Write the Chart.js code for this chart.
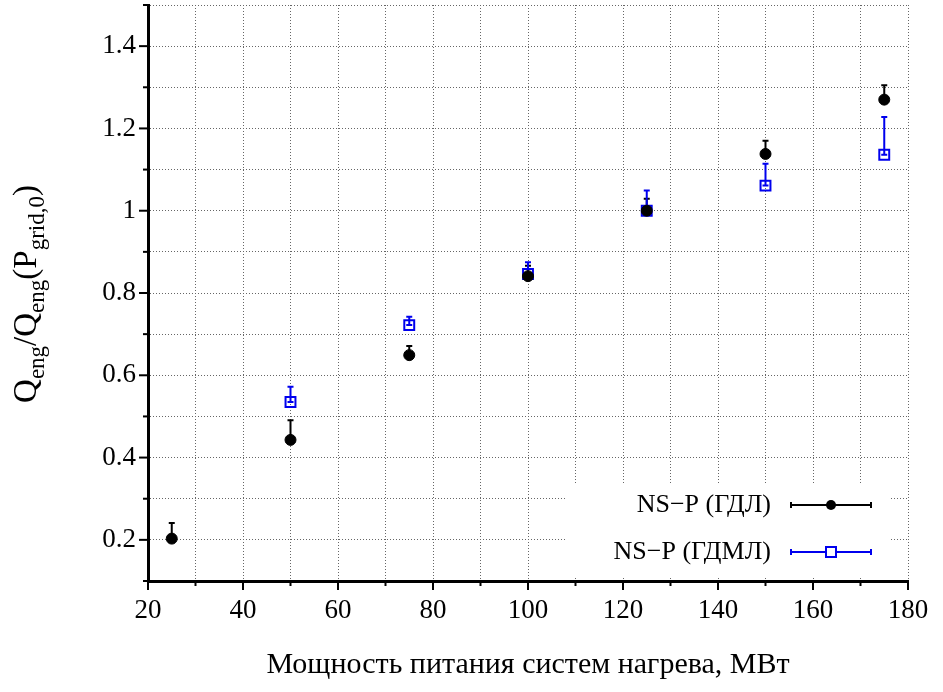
<!DOCTYPE html>
<html>
<head>
<meta charset="utf-8">
<script src="https://cdn.jsdelivr.net/npm/chart.js@4.4.1/dist/chart.umd.min.js"></script>
<style>
  html, body { margin: 0; padding: 0; background: #fff; }
  #wrap { width: 943px; height: 692px; }
</style>
</head>
<body>
<div id="wrap"><canvas id="chart" width="943" height="692"></canvas></div>
<script>
// data
var gdlX = [25, 50, 75, 100, 125, 150, 175];
var gdlValues = [0.203, 0.443, 0.649, 0.841, 1.0, 1.138, 1.270];
var gdlErrTop = [0.241, 0.491, 0.671, 0.866, 1.029, 1.170, 1.305];

var gdmlX = [50, 75, 100, 125, 150, 175];
var gdmlValues = [0.535, 0.722, 0.846, 1.0, 1.061, 1.136];
var gdmlErrTop = [0.572, 0.742, 0.875, 1.049, 1.114, 1.228];

var seriesNames = ['NS\u2212P (\u0413\u0414\u041b)', 'NS\u2212P (\u0413\u0414\u041c\u041b)'];
var xTitle = '\u041c\u043e\u0449\u043d\u043e\u0441\u0442\u044c \u043f\u0438\u0442\u0430\u043d\u0438\u044f \u0441\u0438\u0441\u0442\u0435\u043c \u043d\u0430\u0433\u0440\u0435\u0432\u0430, \u041c\u0412\u0442';

var FONT = '"Liberation Serif", "DejaVu Serif", serif';
var tickFont = 27;

function toPoints(xs, ys, tops) {
  return xs.map(function (x, i) { return { x: x, y: ys[i], top: tops[i] }; });
}

// pin the top of the plot area
var pinTop = {
  id: 'pinTop',
  afterLayout: function (chart) {
    var a = chart.chartArea, y = chart.scales.y;
    a.top = 5;
    a.height = a.bottom - a.top;
    y.top = 5;
    y.height = y.bottom - y.top;
    y.configure();
  }
};

// error bars (upper side only, caps on both ends)
var errorBars = {
  id: 'errorBars',
  beforeDatasetsDraw: function (chart) {
    var ctx = chart.ctx, xs = chart.scales.x, ys = chart.scales.y;
    ctx.save();
    chart.data.datasets.forEach(function (ds) {
      ctx.strokeStyle = ds.borderColor;
      ctx.lineWidth = 2;
      ds.data.forEach(function (p) {
        var px = xs.getPixelForValue(p.x);
        var py = ys.getPixelForValue(p.y);
        var pt = ys.getPixelForValue(p.top);
        ctx.beginPath();
        ctx.moveTo(px, py); ctx.lineTo(px, pt);
        ctx.moveTo(px - 3, pt); ctx.lineTo(px + 3, pt);
        ctx.moveTo(px - 3, py); ctx.lineTo(px + 3, py);
        ctx.stroke();
      });
    });
    ctx.restore();
  }
};

// major / minor tick marks, titles and the boxed legend
var decorations = {
  id: 'decorations',
  afterDraw: function (chart) {
    var ctx = chart.ctx, xs = chart.scales.x, ys = chart.scales.y;
    var area = chart.chartArea;
    ctx.save();
    ctx.strokeStyle = '#000';
    ctx.lineWidth = 2;
    xs.ticks.forEach(function (t) {
      var px = xs.getPixelForValue(t.value);
      var len = Math.round(t.value) % 20 === 0 ? 9 : 5;
      ctx.beginPath(); ctx.moveTo(px, area.bottom); ctx.lineTo(px, area.bottom + len); ctx.stroke();
    });
    ys.ticks.forEach(function (t) {
      var py = ys.getPixelForValue(t.value);
      var len = Math.round(t.value * 10) % 2 === 0 ? 9 : 5;
      ctx.beginPath(); ctx.moveTo(area.left, py); ctx.lineTo(area.left - len, py); ctx.stroke();
    });

    // x title
    ctx.fillStyle = '#000';
    ctx.font = '30px ' + FONT;
    ctx.textAlign = 'center';
    ctx.textBaseline = 'middle';
    ctx.fillText(xTitle, (area.left + area.right) / 2, 665);

    // y title with subscripts
    var parts = [['Q', 0], ['eng', 1], ['/Q', 0], ['eng', 1], ['(P', 0], ['grid,0', 1], [')', 0]];
    var big = 33, small = 23;
    var total = 0;
    parts.forEach(function (p) {
      ctx.font = (p[1] ? small : big) + 'px ' + FONT;
      p.push(ctx.measureText(p[0]).width);
      total += p[2];
    });
    ctx.translate(36, 294);
    ctx.rotate(-Math.PI / 2);
    ctx.textAlign = 'left';
    ctx.textBaseline = 'alphabetic';
    var cx = -total / 2;
    parts.forEach(function (p) {
      ctx.font = (p[1] ? small : big) + 'px ' + FONT;
      ctx.fillText(p[0], cx, p[1] ? 8 : 0);
      cx += p[2];
    });
    ctx.setTransform(1, 0, 0, 1, 0, 0);

    // legend
    ctx.fillStyle = '#fff';
    ctx.fillRect(565, 484, 324, 93);
    var rows = [505, 552];
    chart.data.datasets.forEach(function (ds, i) {
      var y = rows[i];
      ctx.fillStyle = '#000';
      ctx.font = '26px ' + FONT;
      ctx.textAlign = 'right';
      ctx.textBaseline = 'middle';
      ctx.fillText(seriesNames[i], 771, y);
      ctx.strokeStyle = ds.borderColor;
      ctx.lineWidth = 2;
      ctx.beginPath();
      ctx.moveTo(791, y); ctx.lineTo(871, y);
      ctx.moveTo(791, y - 3); ctx.lineTo(791, y + 3);
      ctx.moveTo(871, y - 3); ctx.lineTo(871, y + 3);
      ctx.stroke();
      if (i === 0) {
        ctx.fillStyle = ds.backgroundColor;
        ctx.beginPath(); ctx.arc(831, y, 5, 0, Math.PI * 2); ctx.fill();
      } else {
        ctx.fillStyle = '#fff';
        ctx.fillRect(826, y - 5, 10, 10);
        ctx.strokeRect(826, y - 5, 10, 10);
      }
    });
    ctx.restore();
  }
};

function gridStyle() {
  return { color: '#666', lineWidth: 1, drawTicks: false };
}

new Chart(document.getElementById('chart'), {
  type: 'scatter',
  data: {
    datasets: [{
      label: seriesNames[0],
      data: toPoints(gdlX, gdlValues, gdlErrTop),
      borderColor: '#000',
      backgroundColor: '#000',
      pointStyle: 'circle',
      pointRadius: 5.5,
      pointHoverRadius: 5.5,
      borderWidth: 1
    }, {
      label: seriesNames[1],
      data: toPoints(gdmlX, gdmlValues, gdmlErrTop),
      borderColor: '#0000ee',
      backgroundColor: 'rgba(0,0,0,0)',
      pointStyle: 'rect',
      pointRadius: 7,
      pointHoverRadius: 7,
      borderWidth: 2
    }]
  },
  options: {
    responsive: false,
    animation: false,
    events: [],
    layout: { padding: { top: 5, right: 35, left: 0, bottom: 0 } },
    plugins: { legend: { display: false }, tooltip: { enabled: false } },
    scales: {
      x: {
        type: 'linear',
        min: 20, max: 180,
        afterFit: function (s) { s.height = 111; },
        grid: gridStyle(),
        border: { color: '#000', width: 3, dash: [1, 2] },
        ticks: {
          stepSize: 10,
          padding: 14,
          color: '#000',
          font: { family: FONT, size: tickFont },
          maxRotation: 0,
          autoSkip: false,
          callback: function (v) { return Math.round(v) % 20 === 0 ? String(Math.round(v)) : ''; }
        }
      },
      y: {
        min: 0.1, max: 1.5,
        afterFit: function (s) { s.width = 148; s.paddingTop = 0; s.paddingBottom = 0; },
        grid: gridStyle(),
        border: { color: '#000', width: 3, dash: [1, 2] },
        ticks: {
          stepSize: 0.1,
          padding: 12,
          color: '#000',
          font: { family: FONT, size: tickFont },
          autoSkip: false,
          callback: function (v) {
            var k = Math.round(v * 10);
            if (k % 2 !== 0) return '';
            return k === 10 ? '1' : (k / 10).toFixed(1);
          }
        }
      }
    }
  },
  plugins: [pinTop, errorBars, decorations]
});
</script>
</body>
</html>
